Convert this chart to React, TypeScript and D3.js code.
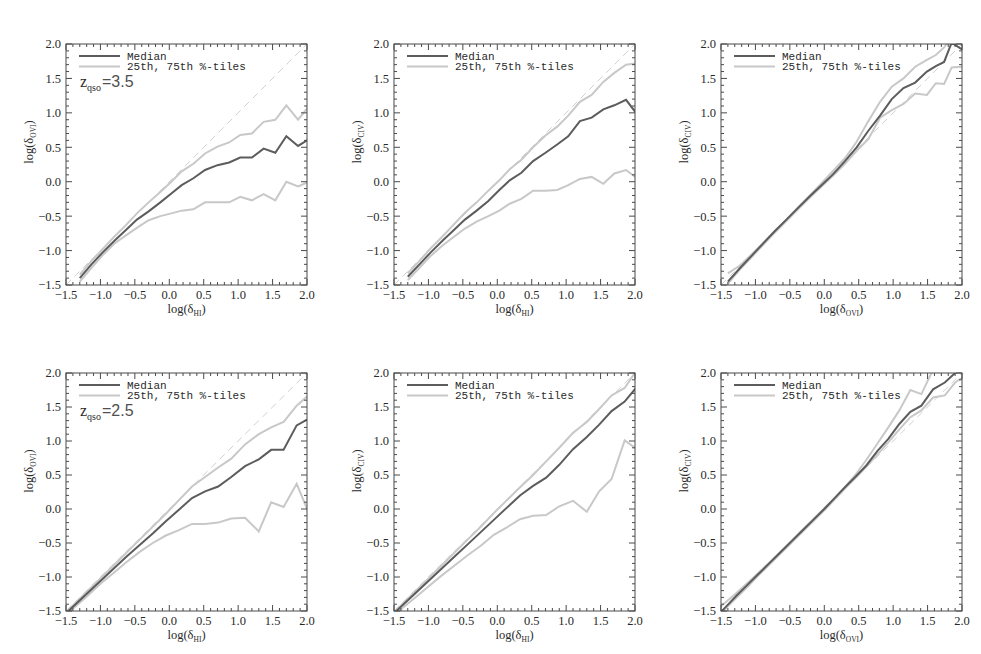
import * as d3 from 'd3';

// x positions of the binned points (log delta of the abscissa ion)
const hiX35 = [-1.3, -1.13, -0.97, -0.8, -0.63, -0.47, -0.3, -0.13, 0.03, 0.18, 0.35, 0.52, 0.7, 0.87, 1.03, 1.2, 1.37, 1.54, 1.7, 1.87, 2.03];
const oviX35 = [-1.4, -1.23, -1.06, -0.89, -0.72, -0.55, -0.38, -0.21, -0.04, 0.13, 0.3, 0.47, 0.64, 0.81, 0.98, 1.15, 1.32, 1.49, 1.62, 1.74, 1.85, 2.0];
const hiX25 = [-1.57, -1.38, -1.19, -1.0, -0.81, -0.62, -0.43, -0.24, -0.05, 0.14, 0.33, 0.52, 0.71, 0.9, 1.1, 1.3, 1.48, 1.66, 1.85, 2.03];
const oviX25 = [-1.6, -1.44, -1.28, -1.12, -0.96, -0.8, -0.64, -0.48, -0.32, -0.16, 0.0, 0.15, 0.3, 0.45, 0.61, 0.77, 0.93, 1.09, 1.25, 1.41, 1.58, 1.75, 1.9, 2.06];

// z = 3.5 : OVI vs HI
const oviHiMed35 = [-1.4, -1.2, -1.03, -0.86, -0.7, -0.55, -0.43, -0.3, -0.17, -0.05, 0.05, 0.17, 0.24, 0.28, 0.35, 0.35, 0.48, 0.42, 0.66, 0.52, 0.62];
const oviHiP75_35 = [-1.35, -1.15, -0.98, -0.8, -0.63, -0.46, -0.3, -0.15, 0.0, 0.15, 0.26, 0.41, 0.51, 0.57, 0.68, 0.7, 0.87, 0.9, 1.11, 0.9, 1.1];
const oviHiP25_35 = [-1.45, -1.25, -1.07, -0.9, -0.78, -0.67, -0.56, -0.5, -0.46, -0.42, -0.4, -0.3, -0.3, -0.3, -0.22, -0.27, -0.18, -0.27, 0.0, -0.07, 0.0];

// z = 3.5 : CIV vs HI
const civHiMed35 = [-1.38, -1.2, -1.03, -0.86, -0.7, -0.55, -0.42, -0.28, -0.12, 0.02, 0.13, 0.3, 0.42, 0.54, 0.66, 0.88, 0.93, 1.05, 1.11, 1.19, 0.98];
const civHiP75_35 = [-1.33, -1.15, -0.97, -0.8, -0.62, -0.45, -0.3, -0.13, 0.02, 0.18, 0.32, 0.5, 0.67, 0.8, 0.96, 1.16, 1.26, 1.45, 1.58, 1.7, 1.72];
const civHiP25_35 = [-1.43, -1.25, -1.08, -0.93, -0.8, -0.68, -0.58, -0.5, -0.42, -0.32, -0.25, -0.13, -0.13, -0.12, -0.05, 0.04, 0.07, -0.03, 0.12, 0.17, 0.05];

// z = 3.5 : CIV vs OVI
const civOviMed35 = [-1.45, -1.26, -1.08, -0.9, -0.72, -0.55, -0.38, -0.21, -0.05, 0.11, 0.3, 0.5, 0.74, 0.96, 1.2, 1.36, 1.44, 1.6, 1.68, 1.74, 2.02, 1.92];
const civOviP75_35 = [-1.33, -1.22, -1.06, -0.89, -0.72, -0.55, -0.37, -0.2, -0.02, 0.16, 0.34, 0.58, 0.88, 1.16, 1.38, 1.5, 1.67, 1.77, 1.84, 1.95, 2.1, 2.2];
const civOviP25_35 = [-1.48, -1.28, -1.1, -0.92, -0.74, -0.57, -0.4, -0.23, -0.07, 0.09, 0.26, 0.45, 0.62, 0.93, 1.04, 1.13, 1.28, 1.26, 1.43, 1.42, 1.66, 1.67];

// z = 2.5 : OVI vs HI
const oviHiMed25 = [-1.6, -1.42, -1.24, -1.06, -0.88, -0.7, -0.53, -0.36, -0.18, -0.01, 0.16, 0.26, 0.33, 0.47, 0.63, 0.73, 0.87, 0.87, 1.23, 1.33];
const oviHiP75_25 = [-1.58, -1.4, -1.21, -1.02, -0.83, -0.64, -0.45, -0.26, -0.07, 0.13, 0.33, 0.47, 0.61, 0.74, 0.95, 1.1, 1.2, 1.28, 1.52, 1.68];
const oviHiP25_25 = [-1.6, -1.45, -1.28, -1.1, -0.94, -0.78, -0.63, -0.5, -0.39, -0.31, -0.22, -0.22, -0.2, -0.14, -0.13, -0.33, 0.1, 0.03, 0.37, -0.07];

// z = 2.5 : CIV vs HI
const civHiMed25 = [-1.6, -1.42, -1.24, -1.06, -0.88, -0.7, -0.52, -0.34, -0.16, 0.02, 0.2, 0.34, 0.46, 0.65, 0.88, 1.06, 1.24, 1.44, 1.58, 1.8];
const civHiP75_25 = [-1.59, -1.4, -1.21, -1.02, -0.83, -0.64, -0.45, -0.26, -0.06, 0.13, 0.32, 0.5, 0.7, 0.9, 1.12, 1.28, 1.47, 1.67, 1.78, 2.05];
const civHiP25_25 = [-1.62, -1.46, -1.3, -1.14, -0.98, -0.83, -0.68, -0.54, -0.38, -0.27, -0.15, -0.1, -0.09, 0.04, 0.12, -0.04, 0.26, 0.44, 1.01, 0.88];

// z = 2.5 : CIV vs OVI
const civOviMed25 = [-1.62, -1.45, -1.28, -1.12, -0.96, -0.8, -0.64, -0.48, -0.32, -0.16, 0.0, 0.16, 0.32, 0.47, 0.64, 0.85, 1.03, 1.25, 1.43, 1.52, 1.76, 1.86, 2.0, 2.1];
const civOviP75_25 = [-1.5, -1.38, -1.24, -1.09, -0.94, -0.79, -0.63, -0.47, -0.31, -0.15, 0.01, 0.16, 0.32, 0.5, 0.72, 0.96, 1.2, 1.45, 1.75, 1.69, 2.05, 2.3, 2.4, 2.5];
const civOviP25_25 = [-1.63, -1.47, -1.31, -1.15, -0.98, -0.82, -0.66, -0.5, -0.34, -0.18, -0.02, 0.14, 0.3, 0.45, 0.62, 0.8, 0.98, 1.17, 1.35, 1.45, 1.64, 1.67, 1.86, 1.97];

const tickValues = [-1.5, -1.0, -0.5, 0.0, 0.5, 1.0, 1.5, 2.0];
const legendLabels = ['Median', '25th, 75th %-tiles'];
const redshifts = ['3.5', '2.5'];

const W = 981;
const H = 654;
const colX = [66, 394, 721];
const rowY = [44, 373];
const rowH = [241, 238];
const panelW = 241;

const serif = "'Liberation Serif', 'Times New Roman', serif";
const mono = "'Liberation Mono', 'Courier New', monospace";
const sans = "'Liberation Sans', Arial, sans-serif";

const medColor = '#5c5c5c';
const pctColor = '#c8c8c8';
const axisColor = '#4a4a4a';
const textColor = '#2a2a2a';

const panels = [
  { col: 0, row: 0, x: hiX35, med: oviHiMed35, p75: oviHiP75_35, p25: oviHiP25_35, xs: 'HI', ys: 'OVI', z: redshifts[0] },
  { col: 1, row: 0, x: hiX35, med: civHiMed35, p75: civHiP75_35, p25: civHiP25_35, xs: 'HI', ys: 'CIV', z: null },
  { col: 2, row: 0, x: oviX35, med: civOviMed35, p75: civOviP75_35, p25: civOviP25_35, xs: 'OVI', ys: 'CIV', z: null },
  { col: 0, row: 1, x: hiX25, med: oviHiMed25, p75: oviHiP75_25, p25: oviHiP25_25, xs: 'HI', ys: 'OVI', z: redshifts[1] },
  { col: 1, row: 1, x: hiX25, med: civHiMed25, p75: civHiP75_25, p25: civHiP25_25, xs: 'HI', ys: 'CIV', z: null },
  { col: 2, row: 1, x: oviX25, med: civOviMed25, p75: civOviP75_25, p25: civOviP25_25, xs: 'OVI', ys: 'CIV', z: null },
];

const fmt = d3.format('.1f');
const minorTicks = d3.range(-15, 21).map((v) => v / 10).filter((v) => Math.round(v * 10) % 5 !== 0);

const AxisTitle = ({ sub }: { sub: string }) => (
  <>
    log(δ<tspan fontSize={7.5} dy={2.5}>{sub}</tspan>
    <tspan dy={-2.5}>)</tspan>
  </>
);

function Panel({ p, idx }: { p: any; idx: number }) {
  const left = colX[p.col];
  const top = rowY[p.row];
  const h = rowH[p.row];
  const x = d3.scaleLinear().domain([-1.5, 2]).range([0, panelW]);
  const y = d3.scaleLinear().domain([-1.5, 2]).range([h, 0]);
  const line = d3.line<number>().x((_, i) => x(p.x[i])).y((d) => y(d));
  const diag = d3.line<number>().x((d) => x(d)).y((d) => y(d));
  const clipId = `clip-${idx}`;

  return (
    <g transform={`translate(${left},${top})`}>
      <defs>
        <clipPath id={clipId}>
          <rect x={0} y={0} width={panelW} height={h} />
        </clipPath>
      </defs>

      <g clipPath={`url(#${clipId})`} fill="none">
        {/* one-to-one line */}
        <path d={diag([-1.5, 2]) ?? ''} stroke="#d2d2d2" strokeWidth={1} strokeDasharray="7,5" />
        <path d={line(p.p75) ?? ''} stroke={pctColor} strokeWidth={2} />
        <path d={line(p.p25) ?? ''} stroke={pctColor} strokeWidth={2} />
        <path d={line(p.med) ?? ''} stroke={medColor} strokeWidth={2} />
      </g>

      {/* frame */}
      <rect x={0} y={0} width={panelW} height={h} fill="none" stroke={axisColor} strokeWidth={1} />

      {/* ticks on all four sides */}
      <g stroke={axisColor} strokeWidth={1}>
        {tickValues.map((t) => (
          <g key={`M${t}`}>
            <line x1={x(t)} x2={x(t)} y1={h} y2={h - 6} />
            <line x1={x(t)} x2={x(t)} y1={0} y2={6} />
            <line x1={0} x2={6} y1={y(t)} y2={y(t)} />
            <line x1={panelW} x2={panelW - 6} y1={y(t)} y2={y(t)} />
          </g>
        ))}
        {minorTicks.map((t) => (
          <g key={`m${t}`}>
            <line x1={x(t)} x2={x(t)} y1={h} y2={h - 3} />
            <line x1={x(t)} x2={x(t)} y1={0} y2={3} />
            <line x1={0} x2={3} y1={y(t)} y2={y(t)} />
            <line x1={panelW} x2={panelW - 3} y1={y(t)} y2={y(t)} />
          </g>
        ))}
      </g>

      {/* tick labels */}
      <g fontFamily={serif} fontSize={12.5} fill={textColor}>
        {tickValues.map((t) => (
          <text key={`xl${t}`} x={x(t)} y={h + 14} textAnchor="middle">
            {fmt(t)}
          </text>
        ))}
        {tickValues.map((t) => (
          <text key={`yl${t}`} x={-5} y={y(t)} dy="0.35em" textAnchor="end">
            {fmt(t)}
          </text>
        ))}
      </g>

      {/* axis titles */}
      <text x={panelW / 2} y={h + 28} textAnchor="middle" fontFamily={serif} fontSize={12.5} fill={textColor}>
        <AxisTitle sub={p.xs} />
      </text>
      <text
        transform={`translate(${-33},${98}) rotate(-90)`}
        textAnchor="middle"
        fontFamily={serif}
        fontSize={12.5}
        fill={textColor}
      >
        <AxisTitle sub={p.ys} />
      </text>

      {/* legend */}
      <line x1={13} x2={54} y1={12} y2={12} stroke={medColor} strokeWidth={2} />
      <line x1={13} x2={54} y1={22.5} y2={22.5} stroke={pctColor} strokeWidth={2} />
      <g fontFamily={mono} fontSize={11} fill={textColor}>
        <text x={61} y={15.5}>{legendLabels[0]}</text>
        <text x={61} y={26}>{legendLabels[1]}</text>
      </g>

      {p.z && (
        <text x={14} y={43} fill={textColor}>
          <tspan fontFamily={serif} fontSize={16}>z</tspan>
          <tspan fontFamily={serif} fontSize={10} dy={4}>qso</tspan>
          <tspan fontFamily={sans} fontSize={16} fill="#505050" dy={-4} dx={1}>={p.z}</tspan>
        </text>
      )}
    </g>
  );
}

export default function App() {
  return (
    <svg
      width={W}
      height={H}
      viewBox={`0 0 ${W} ${H}`}
      style={{ position: 'absolute', left: 0, top: 0, background: '#fff' }}
    >
      <rect width={W} height={H} fill="#fff" />
      {panels.map((p, i) => (
        <Panel key={i} p={p} idx={i} />
      ))}
    </svg>
  );
}
